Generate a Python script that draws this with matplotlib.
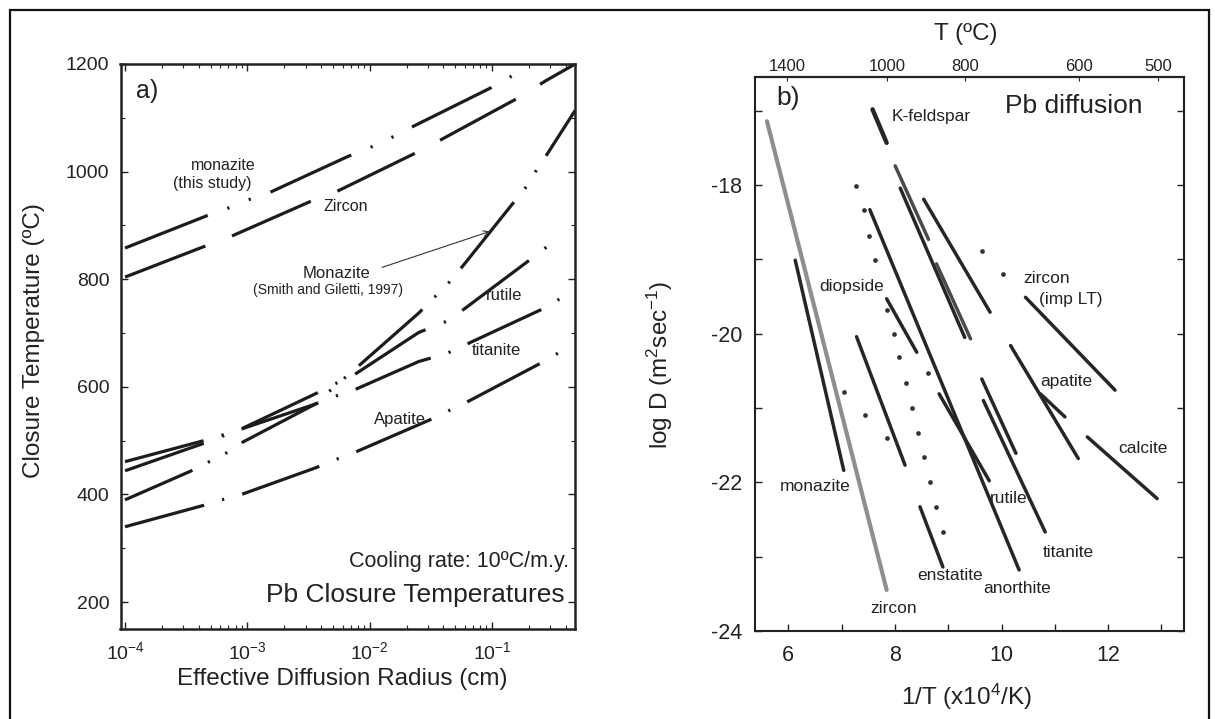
import numpy as np
import matplotlib
matplotlib.use('Agg')
import matplotlib.pyplot as plt
from matplotlib.ticker import (FixedLocator, MultipleLocator, LogLocator,
                               FuncFormatter, NullFormatter, NullLocator)

plt.rcParams['font.family'] = ['Liberation Sans', 'DejaVu Sans']
plt.rcParams['mathtext.fontset'] = 'custom'
plt.rcParams['mathtext.rm'] = 'Liberation Sans'
plt.rcParams['mathtext.it'] = 'Liberation Sans:italic'
plt.rcParams['mathtext.bf'] = 'Liberation Sans:bold'
plt.rcParams['lines.scale_dashes'] = False

# ---------------- Panel a data: log10 radius (cm) vs closure T (C) -----------
mnz_logr = [-4.0, -3.32, -3.16, -3.0, -2.82, -2.18, -2.015, -1.85, -1.69, -1.016, -0.87, -0.70]
mnz_T = [858, 919, 932, 947, 961, 1028, 1043, 1060, 1079, 1155, 1173, 1200]
zrn_logr = [-4.0, -3.34, -3.13, -2.49, -2.27, -1.63, -1.42, -0.77, -0.56, -0.32]
zrn_T = [804, 862, 880, 944, 963, 1034, 1059, 1139, 1169, 1200]
mnzsg_logr = [-4.0, -3.447, -3.32, -3.18, -3.057, -2.445, -2.29, -2.13, -1.60, -1.473,
              -1.348, -1.234, -0.812, -0.709, -0.629, -0.548, -0.32]
mnzsg_T = [390, 445, 460, 476, 495, 568, 600, 631, 737, 766, 795, 826, 946, 975, 1006, 1033, 1114]
rt_logr = [-4.0, -3.357, -3.057, -2.445, -2.29, -2.13, -1.60, -1.37, -1.22, -0.603, -0.45]
rt_T = [444, 495, 521, 587, 605, 622, 701, 722, 746, 851, 879]
ttn_logr = [-4.0, -3.357, -3.21, -3.057, -2.445, -2.29, -2.13, -1.60, -1.37, -1.22, -0.594, -0.45]
ttn_T = [461, 500, 510, 521, 568, 582, 594, 647, 662, 678, 744, 763]
ap_logr = [-4.0, -3.354, -3.21, -3.049, -2.437, -2.29, -2.145, -1.515, -1.37, -1.22, -0.594, -0.45]
ap_T = [340, 380, 390, 400, 450, 464, 476, 538, 554, 570, 645, 664]

a_yticks = [200, 400, 600, 800, 1000, 1200]

# ---------------- Panel b data: 1/T (x10^4/K) vs log D -----------------------
pb_names = ['zircon', 'monazite', 'unnamed1', 'diopside', 'K-feldspar', 'kfs2',
            'kfs3', 'kfs4', 'kfs5', 'anorthite', 'rutile', 'titanite2',
            'titanite', 'apatite', 'apatite2', 'calcite', 'zircon imp LT', 'enstatite']
pb_x0 = [5.60, 6.13, 7.28, 7.845, 7.58, 8.005, 8.10, 8.78, 8.54, 7.53, 8.83, 9.63,
         9.66, 10.17, 10.73, 11.61, 10.45, 8.47]
pb_y0 = [-17.14, -19.01, -20.04, -19.53, -16.98, -17.74, -18.04, -19.06, -18.19, -18.33,
         -20.81, -20.61, -20.90, -20.16, -20.81, -21.39, -19.51, -22.33]
pb_x1 = [7.845, 7.04, 8.19, 8.41, 7.845, 8.63, 9.31, 9.42, 9.785, 10.33, 9.77, 10.27,
         10.82, 11.44, 11.19, 12.92, 12.13, 8.90]
pb_y1 = [-23.45, -21.84, -21.77, -20.25, -17.43, -18.73, -20.05, -20.07, -19.71, -23.18,
         -21.98, -21.61, -22.67, -21.68, -21.12, -22.22, -20.76, -23.14]

dotcol_x = [7.275, 7.415, 7.505, 7.635, 7.845, 7.975, 8.085, 8.205, 8.315, 8.435,
            8.545, 8.655, 8.765, 8.895]
dotcol_y = [-18.01, -18.34, -18.68, -19.01, -19.68, -20.0, -20.32, -20.67, -21.0, -21.34,
            -21.66, -22.0, -22.33, -22.67]
dots2_x = [7.04, 7.44, 7.845, 8.63, 9.63, 10.03]
dots2_y = [-20.79, -21.10, -21.41, -20.53, -18.89, -19.20]

b_xticks = [6, 8, 10, 12]
b_yticks = [-24, -22, -20, -18]
top_T_ticks = [1400, 1000, 800, 600, 500]

# ---------------- figure ----------------
W, H = 1215, 719
fig = plt.figure(figsize=(W / 100, H / 100), dpi=100)
fig.patch.set_facecolor('white')

def fx(px):
    return px / W

def fy(py):
    return 1 - py / H

ax1 = fig.add_axes([fx(120.5), fy(629), (575 - 120.5) / W, (629 - 64) / H])
ax2 = fig.add_axes([fx(755), fy(630.8), (1184 - 755) / W, (630.8 - 76.7) / H])

ink = '#1c1c1c'

# ---- panel a ----
ax1.set_xscale('log')
ax1.set_xlim(10 ** -4.037, 10 ** -0.322)
ax1.set_ylim(150, 1200)

curves = [
    (mnz_logr, mnz_T, (0, (64, 15, 1.6, 15, 1.6, 15))),
    (zrn_logr, zrn_T, (0, (62, 20.5))),
    (mnzsg_logr, mnzsg_T, (8, (61, 12.5, 1.6, 12.5, 1.6, 12.5))),
    (rt_logr, rt_T, (0, (60, 14.2, 1.6, 14.2))),
    (ttn_logr, ttn_T, (0, (58.5, 13.5, 1.6, 13.5))),
    (ap_logr, ap_T, (0, (59, 13.5, 1.6, 13.5))),
]
for lr_, tt, ls in curves:
    ax1.plot(np.power(10.0, lr_), tt, color=ink, lw=2.3, linestyle=ls,
             dash_capstyle='butt', solid_capstyle='butt')

ax1.yaxis.set_major_locator(FixedLocator(a_yticks))
ax1.yaxis.set_minor_locator(MultipleLocator(100))
ax1.yaxis.set_major_formatter(FuncFormatter(lambda v, p: f'{int(v)}'))
ax1.xaxis.set_major_locator(LogLocator(base=10, numticks=10))
ax1.xaxis.set_minor_locator(LogLocator(base=10, subs=np.arange(2, 10), numticks=20))
ax1.xaxis.set_minor_formatter(NullFormatter())
ax1.xaxis.set_major_formatter(
    FuncFormatter(lambda v, p: '$10^{%d}$' % int(round(np.log10(v)))))
ax1.tick_params(which='both', direction='in', top=True, right=True, colors='#222')
ax1.tick_params(which='major', length=5, width=1.0, labelsize=14)
ax1.tick_params(which='minor', length=3, width=0.8)
ax1.tick_params(axis='y', pad=8)
ax1.tick_params(axis='x', pad=9)
for s in ax1.spines.values():
    s.set_linewidth(1.8)
    s.set_color('#222')

def lr(v):
    return 10 ** v

tk = dict(color='#222', ha='center', va='center')
ax1.text(lr(-3.82), 1150, 'a)', fontsize=18, **tk)
ax1.text(lr(-3.193), 1012, 'monazite', fontsize=11.5, **tk)
ax1.text(lr(-3.283), 977, '(this study)', fontsize=11.5, **tk)
ax1.text(lr(-2.193), 935, 'Zircon', fontsize=11.5, **tk)
ax1.text(lr(-2.27), 811, 'Monazite', fontsize=12, **tk)
ax1.text(lr(-2.34), 780, '(Smith and Giletti, 1997)', fontsize=10, **tk)
ax1.text(lr(-0.90), 769, 'rutile', fontsize=12, **tk)
ax1.text(lr(-0.962), 667, 'titanite', fontsize=12, **tk)
ax1.text(lr(-1.751), 540, 'Apatite', fontsize=12, **tk)
ax1.text(lr(-0.371), 275, 'Cooling rate: 10ºC/m.y.', fontsize=15.5, color='#222',
         ha='right', va='center')
ax1.text(lr(-0.41), 213, 'Pb Closure Temperatures', fontsize=19, color='#222',
         ha='right', va='center')
ax1.annotate('', xy=(lr(-1.016), 889), xytext=(lr(-1.90), 822),
             arrowprops=dict(arrowstyle='->', lw=0.8, color='#333',
                             shrinkA=0, shrinkB=0, mutation_scale=10))

fig.text(fx(34), fy(341), 'Closure Temperature (ºC)', rotation=90, fontsize=17.5,
         ha='center', va='center', color='#222')
fig.text(fx(342), fy(679), 'Effective Diffusion Radius (cm)', fontsize=17.5,
         ha='center', va='center', color='#222')

# ---- panel b ----
ax2.set_xlim(5.375, 13.424)
ax2.set_ylim(-24, -16.54)

line_colors = {'zircon': '#8e8e8e', 'kfs2': '#4a4a4a', 'kfs4': '#4a4a4a'}
line_widths = {'zircon': 3.0, 'K-feldspar': 3.2}
for i, name in enumerate(pb_names):
    ax2.plot([pb_x0[i], pb_x1[i]], [pb_y0[i], pb_y1[i]],
             color=line_colors.get(name, '#262626'),
             lw=line_widths.get(name, 2.5), solid_capstyle='round')

ax2.plot(dotcol_x, dotcol_y, linestyle='none', marker='o', ms=3.4, color='#333',
         mec='none')
ax2.plot(dots2_x, dots2_y, linestyle='none', marker='o', ms=3.4, color='#333',
         mec='none')

ax2.xaxis.set_major_locator(FixedLocator(b_xticks))
ax2.xaxis.set_minor_locator(MultipleLocator(1))
ax2.yaxis.set_major_locator(FixedLocator(b_yticks))
ax2.yaxis.set_minor_locator(MultipleLocator(1))
ax2.xaxis.set_major_formatter(FuncFormatter(lambda v, p: f'{int(v)}'))
ax2.yaxis.set_major_formatter(FuncFormatter(lambda v, p: f'{int(v)}'))
ax2.tick_params(which='both', direction='in', top=False, right=True, colors='#222')
ax2.tick_params(which='major', length=5, width=1.0, labelsize=15.5)
ax2.tick_params(which='minor', length=5, width=1.0)
ax2.tick_params(axis='y', pad=9)
ax2.tick_params(axis='x', pad=10)
for s in ax2.spines.values():
    s.set_linewidth(1.5)
    s.set_color('#222')


def inv_to_c(x):
    x = np.asarray(x, dtype=float)
    with np.errstate(divide='ignore', invalid='ignore'):
        return 1e4 / x - 273.0


def c_to_inv(t):
    t = np.asarray(t, dtype=float)
    with np.errstate(divide='ignore', invalid='ignore'):
        return 1e4 / (t + 273.0)


sec = ax2.secondary_xaxis('top', functions=(inv_to_c, c_to_inv))
sec.xaxis.set_major_locator(FixedLocator(top_T_ticks))
sec.xaxis.set_minor_locator(NullLocator())
sec.xaxis.set_major_formatter(FuncFormatter(lambda v, p: f'{int(round(v))}'))
sec.tick_params(direction='in', length=3, width=0.8, labelsize=12, pad=2, colors='#222')
sec.spines['top'].set_linewidth(1.5)

tb = dict(color='#222', ha='center', va='center', fontsize=12.5)
ax2.text(6.0, -16.83, 'b)', color='#222', ha='center', va='center', fontsize=19)
ax2.text(7.94, -17.07, 'K-feldspar', color='#222', ha='left', va='center', fontsize=12.5)
ax2.text(11.35, -16.94, 'Pb diffusion', color='#222', ha='center', va='center', fontsize=19)
ax2.text(7.19, -19.37, 'diopside', **tb)
ax2.text(10.85, -19.26, 'zircon', **tb)
ax2.text(11.29, -19.54, '(imp LT)', **tb)
ax2.text(11.22, -20.65, 'apatite', **tb)
ax2.text(12.66, -21.55, 'calcite', **tb)
ax2.text(6.50, -22.06, 'monazite', **tb)
ax2.text(10.13, -22.22, 'rutile', **tb)
ax2.text(11.25, -22.95, 'titanite', **tb)
ax2.text(9.03, -23.26, 'enstatite', **tb)
ax2.text(10.29, -23.43, 'anorthite', **tb)
ax2.text(7.97, -23.70, 'zircon', **tb)

fig.text(fx(660), fy(365), 'log D (m$^2$sec$^{-1}$)', rotation=90, fontsize=17.5,
         ha='center', va='center', color='#222')
fig.text(fx(966), fy(697), '1/T (x10$^4$/K)', fontsize=17.5,
         ha='center', va='center', color='#222')
fig.text(fx(966), fy(34), 'T (ºC)', fontsize=17.5, ha='center', va='center',
         color='#222')

# outer frame of the figure
fig.add_artist(plt.Rectangle((fx(9.5), -0.02), fx(1209) - fx(9.5), fy(10) + 0.02,
                             transform=fig.transFigure, fill=False, lw=1.6,
                             ec='#111'))

fig.savefig('out.png', dpi=100, facecolor='white')
